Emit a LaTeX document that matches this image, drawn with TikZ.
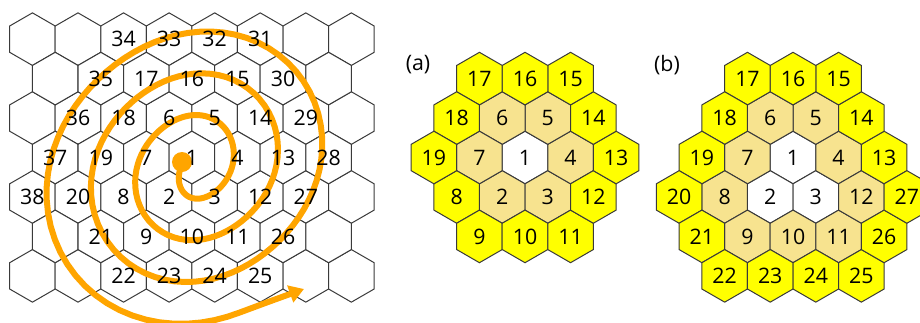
\documentclass[tikz,border=0pt]{standalone}
\usepackage{fontspec}
\setmainfont{Open Sans}
\usepackage{tikz}
\usetikzlibrary{arrows.meta,shapes.geometric}
\definecolor{cellline}{HTML}{3A3A3A}
\definecolor{ringtan}{RGB}{247,227,143}
\definecolor{ringyellow}{RGB}{255,255,0}
\definecolor{spiralorange}{RGB}{255,165,0}
\tikzset{
  hexcell/.style={
    regular polygon,
    regular polygon sides=6,
    shape border rotate=30,
    draw=cellline,
    line width=0.75pt,
    minimum size=39.45pt,
    inner sep=0pt,
    outer sep=0pt,
    font=\fontsize{16}{18}\selectfont
  },
  numtext/.style={inner sep=0pt, font=\fontsize{16}{18}\selectfont},
  paneltag/.style={inner sep=0pt, font=\fontsize{16}{18}\selectfont},
  hubdot/.style={circle, fill=spiralorange, minimum size=15pt, inner sep=0pt},
  spiralline/.style={draw=spiralorange, line width=4.5pt, -{Triangle[length=11pt,width=13pt]}}
}
% cell number / column offset (half widths) / row offset
\newcommand\spiralcells{1/0/0, 2/-1/1, 3/1/1, 4/2/0, 5/1/-1, 6/-1/-1, 7/-2/0,
  8/-3/1, 9/-2/2, 10/0/2, 11/2/2, 12/3/1, 13/4/0, 14/3/-1, 15/2/-2, 16/0/-2,
  17/-2/-2, 18/-3/-1, 19/-4/0, 20/-5/1, 21/-4/2, 22/-3/3, 23/-1/3, 24/1/3,
  25/3/3, 26/4/2, 27/5/1, 28/6/0, 29/5/-1, 30/4/-2, 31/3/-3, 32/1/-3, 33/-1/-3,
  34/-3/-3, 35/-4/-2, 36/-5/-1, 37/-6/0, 38/-7/1}

\begin{document}
\begin{tikzpicture}[x=0.75pt, y=-0.75pt]
  \clip (0,0) rectangle (920,322);

  % plain grid
  \foreach \dy in {-3,-1,1,3}
    \foreach \dx in {-7,-5,...,7}
      \node[hexcell, fill=white] (g\dx r\dy) at ({191.9+22.78*\dx},{157.5+39.45*\dy}) {};
  \foreach \dy in {-2,0,2}
    \foreach \dx in {-6,-4,...,6}
      \node[hexcell, fill=white] (g\dx r\dy) at ({191.9+22.78*\dx},{157.5+39.45*\dy}) {};

  % spiral
  \node[hubdot] (hub) at (182,162) {};
  \coordinate (spiralend) at (304,289);
  \draw[spiralline] plot[domain=-0.5:2.8, samples=240, variable=\t]
    ({195.5+(36.5+44*\t)*cos(360*\t)*(1+0.07*sin(720*\t))},
     {167.2-(41.8+41.5*\t)*sin(360*\t)*(1+0.07*sin(720*\t))})
    .. controls (268,302) .. (spiralend);

  \foreach \n/\dx/\dy in \spiralcells
    \node[numtext] (s\n) at ({191.9+22.78*\dx},{157.5+39.45*\dy}) {\n};

  % (a)
  \node[paneltag] (tagA) at (418,65) {(a)};
  \foreach \n/\dx/\dy in \spiralcells {
    \ifnum\n<20
      \ifnum\n=1 \def\tint{white}\else\ifnum\n<8 \def\tint{ringtan}\else\def\tint{ringyellow}\fi\fi
      \node[hexcell, fill=\tint] (a\n) at ({525+22.78*\dx},{157.5+39.45*\dy}) {\n};
    \fi
  }

  % (b)
  \node[paneltag] (tagB) at (667,65) {(b)};
  \foreach \n/\dx/\dy in \spiralcells {
    \ifnum\n<28
      \ifnum\n<4 \def\tint{white}\else\ifnum\n<13 \def\tint{ringtan}\else\def\tint{ringyellow}\fi\fi
      \node[hexcell, fill=\tint] (b\n) at ({793+22.78*\dx},{157.5+39.45*\dy}) {\n};
    \fi
  }
\end{tikzpicture}
\end{document}
